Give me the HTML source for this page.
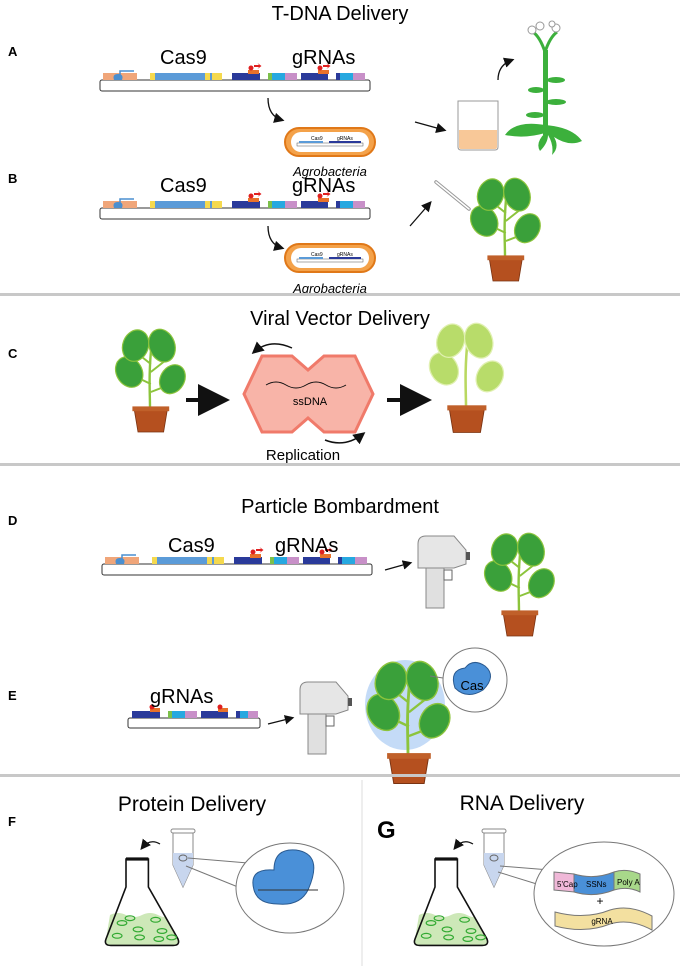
<!DOCTYPE html><html><head><style>body{margin:0;background:#fff}svg{display:block}text{font-family:"Liberation Sans",sans-serif}</style></head><body>
<svg width="680" height="966" viewBox="0 0 680 966" xmlns="http://www.w3.org/2000/svg">
<defs>
<g id="dna">
<rect x="0" y="7" width="270" height="11" rx="2" fill="#fff" stroke="#333" stroke-width="1"/>
<rect x="3" y="0" width="34" height="7" fill="#f0a67a"/>
<path d="M14 7 q-2-6 4-6 q6 0 4 6z" fill="#4a8fd0"/><path d="M20 2 v-4 h14" stroke="#4a8fd0" fill="none" stroke-width="1.5"/>
<rect x="50" y="0" width="62" height="7" fill="#5b9bd8"/><rect x="50" y="0" width="5" height="7" fill="#f5d94e"/><rect x="105" y="0" width="5" height="7" fill="#f5d94e"/><rect x="112" y="0" width="10" height="7" fill="#f5d94e"/>
<rect x="132" y="0" width="28" height="7" fill="#2a3a9a"/><rect x="148" y="-3" width="11" height="4" fill="#e8712a"/><circle cx="151" cy="-5" r="2.5" fill="#e02020"/><path d="M154 -8 h5 l-1.5 -2 l4 3 l-4 3 l1.5-2h-5z" fill="#e02020"/>
<rect x="168" y="0" width="4" height="7" fill="#7cc04a"/><rect x="172" y="0" width="13" height="7" fill="#26a8e0"/><rect x="185" y="0" width="12" height="7" fill="#c890c8"/>
<rect x="201" y="0" width="27" height="7" fill="#2a3a9a"/><rect x="218" y="-3" width="11" height="4" fill="#e8712a"/><circle cx="220" cy="-5" r="2.5" fill="#e02020"/><path d="M223 -8 h5 l-1.5 -2 l4 3 l-4 3 l1.5-2h-5z" fill="#e02020"/>
<rect x="236" y="0" width="4" height="7" fill="#2a3a9a"/><rect x="240" y="0" width="13" height="7" fill="#26a8e0"/><rect x="253" y="0" width="12" height="7" fill="#c890c8"/>
</g>
<g id="plant">
<path d="M40 100 C40 80 38 60 42 20" stroke="#8cc43c" stroke-width="3" fill="none"/>
<path d="M41 70 L20 60 M41 55 L60 40 M41 80 L62 72 M41 45 L22 30" stroke="#8cc43c" stroke-width="2.5"/>
<ellipse cx="14" cy="55" rx="16" ry="20" transform="rotate(-30 14 55)" fill="#3aa03a" stroke="#8cc43c" stroke-width="1.5"/>
<ellipse cx="22" cy="22" rx="16" ry="20" transform="rotate(20 22 22)" fill="#3aa03a" stroke="#8cc43c" stroke-width="1.5"/>
<ellipse cx="55" cy="22" rx="16" ry="21" transform="rotate(-20 55 22)" fill="#3aa03a" stroke="#8cc43c" stroke-width="1.5"/>
<ellipse cx="68" cy="64" rx="15" ry="19" transform="rotate(30 68 64)" fill="#3aa03a" stroke="#8cc43c" stroke-width="1.5"/>
<path d="M20 100 h42 l-5 30 h-32z" fill="#b5501f" stroke="#7a3312"/><rect x="18" y="98" width="46" height="6" fill="#c0602a"/>
</g>
<g id="plantL">
<path d="M40 100 C40 80 38 60 42 20" stroke="#b9d860" stroke-width="3" fill="none"/>
<ellipse cx="14" cy="55" rx="16" ry="20" transform="rotate(-30 14 55)" fill="#b8dc6a" stroke="#e0f0b0" stroke-width="1.5"/>
<ellipse cx="22" cy="22" rx="16" ry="20" transform="rotate(20 22 22)" fill="#b8dc6a" stroke="#e0f0b0" stroke-width="1.5"/>
<ellipse cx="55" cy="22" rx="16" ry="21" transform="rotate(-20 55 22)" fill="#b8dc6a" stroke="#e0f0b0" stroke-width="1.5"/>
<ellipse cx="68" cy="64" rx="15" ry="19" transform="rotate(30 68 64)" fill="#b8dc6a" stroke="#e0f0b0" stroke-width="1.5"/>
<path d="M20 100 h42 l-5 30 h-32z" fill="#b5501f" stroke="#7a3312"/><rect x="18" y="98" width="46" height="6" fill="#c0602a"/>
</g>
<g id="gun">
<path d="M0 8 q0-8 8-8 h28 l12 14 v14 l-12 4 h-36z" fill="#e6e6e6" stroke="#888"/>
<rect x="8" y="32" width="18" height="40" fill="#e0e0e0" stroke="#888"/>
<rect x="26" y="34" width="8" height="10" fill="#fff" stroke="#666"/>
<rect x="48" y="16" width="4" height="8" fill="#555"/>
</g>
<g id="agro">
<rect x="0" y="0" width="90" height="28" rx="14" fill="#f4a24a" stroke="#e07818" stroke-width="2"/>
<rect x="6" y="4" width="78" height="20" rx="10" fill="#fff"/>
<rect x="12" y="15" width="66" height="3" fill="#fff" stroke="#555" stroke-width=".5"/>
<rect x="14" y="13" width="24" height="2" fill="#5b9bd8"/><rect x="44" y="13" width="32" height="2" fill="#2a3a9a"/>
<text x="26" y="12" font-size="5">Cas9</text><text x="52" y="12" font-size="5">gRNAs</text>
</g>
<marker id="ah" markerWidth="8" markerHeight="8" refX="6" refY="4" orient="auto"><path d="M0 0 L8 4 L0 8z" fill="#111"/></marker>
<g id="flask">
<path d="M5 70 q10-5 20 0 t20 0 t20 0 t8 0 L90 100 q3 8-6 8 h-78 q-9 0-6-8z" fill="#cde8b8"/>
<path d="M25 0 h28 v35 l37 65 q3 8-6 8 h-78 q-9 0-6-8 l25-65 z" fill="none" stroke="#111" stroke-width="2"/>
<rect x="25" y="-2" width="28" height="4" fill="#111"/>
<g fill="none" stroke="#33aa33" stroke-width="1.5"><ellipse cx="20" cy="80" rx="6" ry="3"/><ellipse cx="40" cy="88" rx="6" ry="3"/><ellipse cx="62" cy="76" rx="6" ry="3"/><ellipse cx="70" cy="90" rx="6" ry="3"/><ellipse cx="14" cy="96" rx="6" ry="3"/><ellipse cx="42" cy="98" rx="6" ry="3"/><ellipse cx="66" cy="100" rx="6" ry="3"/><ellipse cx="82" cy="98" rx="6" ry="3"/><ellipse cx="30" cy="74" rx="6" ry="3"/></g>
</g>
<g id="tube">
<rect x="-2" y="0" width="24" height="4" rx="2" fill="#fff" stroke="#888"/>
<path d="M0 4 h20 v32 l-10 22 l-10 -22z" fill="#fff" stroke="#888"/>
<path d="M0 24 h20 v12 l-10 22 l-10 -22z" fill="#c8d6ee"/>
<ellipse cx="10" cy="29" rx="4" ry="3" fill="none" stroke="#666"/>
</g>
</defs>

<text x="340" y="20" font-size="20" text-anchor="middle">T-DNA Delivery</text>
<text x="8" y="56" font-size="13" font-weight="bold">A</text>
<use href="#dna" x="100" y="73"/>
<text x="160" y="64" font-size="20">Cas9</text><text x="292" y="64" font-size="20">gRNAs</text>
<path d="M268 98 q0 18 14 22" fill="none" stroke="#111" stroke-width="1.3" marker-end="url(#ah)"/>
<use href="#agro" x="285" y="128"/>
<text x="330" y="176" font-size="13" font-style="italic" text-anchor="middle">Agrobacteria</text>
<line x1="415" y1="122" x2="444" y2="130" stroke="#111" stroke-width="1.3" marker-end="url(#ah)"/>
<path d="M458 101 h40 v46 q0 3-3 3 h-34 q-3 0-3-3z" fill="#fff" stroke="#999"/>
<path d="M459 130 h38 v17 q0 2-2 2 h-34 q-2 0-2-2z" fill="#f8c898"/>
<path d="M498 80 q0-15 14-20" fill="none" stroke="#111" stroke-width="1.3" marker-end="url(#ah)"/>
<g fill="#3cb03c">
<rect x="543" y="50" width="5" height="85"/>
<path d="M545 125 q-30 -5 -40 10 q20 4 40 -2 q-10 10 -5 18 q8-8 8-16 q6 10 4 20 q8 -8 2-18 q15 10 28 4 q-10 -14 -37 -16z"/>
<ellipse cx="556" cy="80" rx="9" ry="3"/><ellipse cx="556" cy="102" rx="10" ry="3"/><ellipse cx="535" cy="115" rx="9" ry="3"/><ellipse cx="536" cy="90" rx="8" ry="3"/>
<path d="M545 52 q-5-15-12-20 M545 52 q5-15 12-20" stroke="#3cb03c" stroke-width="3" fill="none"/>
</g>
<g fill="#fff" stroke="#999"><circle cx="532" cy="30" r="4"/><circle cx="540" cy="26" r="4"/><circle cx="556" cy="28" r="4"/><circle cx="552" cy="24" r="3"/></g>

<text x="8" y="183" font-size="13" font-weight="bold">B</text>
<use href="#dna" x="100" y="201"/>
<text x="160" y="192" font-size="20">Cas9</text><text x="292" y="192" font-size="20">gRNAs</text>
<path d="M268 226 q0 18 14 22" fill="none" stroke="#111" stroke-width="1.3" marker-end="url(#ah)"/>
<use href="#agro" x="285" y="244"/>
<text x="330" y="293" font-size="13" font-style="italic" text-anchor="middle">Agrobacteria</text>
<line x1="410" y1="226" x2="430" y2="203" stroke="#111" stroke-width="1.3" marker-end="url(#ah)"/>
<line x1="436" y1="182" x2="469" y2="209" stroke="#999" stroke-width="3.5" stroke-linecap="round"/>
<line x1="436" y1="182" x2="469" y2="209" stroke="#fff" stroke-width="1.5" stroke-linecap="round"/>
<use href="#plant" transform="translate(473,177) scale(0.8)"/>
<rect x="0" y="293" width="680" height="3" fill="#c8c8c8"/>

<text x="340" y="325" font-size="20" text-anchor="middle">Viral Vector Delivery</text>
<text x="8" y="358" font-size="13" font-weight="bold">C</text>
<use href="#plant" transform="translate(118,328) scale(0.8)"/>
<line x1="186" y1="400" x2="222" y2="400" stroke="#111" stroke-width="4" marker-end="url(#ah)"/>
<path d="M244 394 L262 356 H292 L308 370 L324 356 H355 L373 394 L355 432 H324 L308 418 L292 432 H262 Z" fill="#f8b4a8" stroke="#f07a6a" stroke-width="3"/>
<path d="M266 385 q10-6 20 0 t20 0 t20 0 t20 0" fill="none" stroke="#111"/>
<text x="310" y="405" font-size="11" text-anchor="middle">ssDNA</text>
<path d="M292 348 q-22-10 -38 4" fill="none" stroke="#111" stroke-width="1.5" marker-end="url(#ah)"/>
<path d="M325 440 q20 8 38 -6" fill="none" stroke="#111" stroke-width="1.5" marker-end="url(#ah)"/>
<text x="303" y="460" font-size="15" text-anchor="middle">Replication</text>
<line x1="387" y1="400" x2="424" y2="400" stroke="#111" stroke-width="4" marker-end="url(#ah)"/>
<use href="#plantL" transform="translate(432,322) scale(0.85)"/>
<rect x="0" y="463" width="680" height="3" fill="#c8c8c8"/>

<text x="340" y="513" font-size="20" text-anchor="middle">Particle Bombardment</text>
<text x="8" y="525" font-size="13" font-weight="bold">D</text>
<use href="#dna" x="102" y="557"/>
<text x="168" y="552" font-size="20">Cas9</text><text x="275" y="552" font-size="20">gRNAs</text>
<line x1="385" y1="570" x2="410" y2="563" stroke="#111" stroke-width="1.2" marker-end="url(#ah)"/>
<use href="#gun" x="418" y="536"/>
<use href="#plant" transform="translate(487,532) scale(0.8)"/>
<text x="8" y="700" font-size="13" font-weight="bold">E</text>
<rect x="128" y="718" width="132" height="10" rx="2" fill="#fff" stroke="#333"/>
<rect x="132" y="711" width="28" height="7" fill="#2a3a9a"/><rect x="150" y="708" width="10" height="4" fill="#e8712a"/><circle cx="152" cy="707" r="2.5" fill="#e02020"/>
<rect x="168" y="711" width="4" height="7" fill="#7cc04a"/><rect x="172" y="711" width="13" height="7" fill="#26a8e0"/><rect x="185" y="711" width="12" height="7" fill="#c890c8"/>
<rect x="201" y="711" width="27" height="7" fill="#2a3a9a"/><rect x="218" y="708" width="10" height="4" fill="#e8712a"/><circle cx="220" cy="707" r="2.5" fill="#e02020"/>
<rect x="236" y="711" width="4" height="7" fill="#2a3a9a"/><rect x="240" y="711" width="8" height="7" fill="#26a8e0"/><rect x="248" y="711" width="10" height="7" fill="#c890c8"/>
<text x="150" y="703" font-size="20">gRNAs</text>
<line x1="268" y1="724" x2="292" y2="718" stroke="#111" stroke-width="1.2" marker-end="url(#ah)"/>
<use href="#gun" x="300" y="682"/>
<ellipse cx="405" cy="705" rx="40" ry="45" fill="#8ab8f0" opacity=".5"/>
<use href="#plant" transform="translate(370,660) scale(0.95)"/>
<circle cx="475" cy="680" r="32" fill="#fff" stroke="#777"/>
<line x1="430" y1="676" x2="443" y2="678" stroke="#777"/>
<path d="M455 688 q-6-18 10-20 q8-10 20-2 q12 10 -2 24 q-16 10 -28 -2z" fill="#4a90d8" stroke="#2a5a90"/>
<text x="472" y="690" font-size="13" text-anchor="middle">Cas</text>
<rect x="0" y="774" width="680" height="3" fill="#c8c8c8"/>
<line x1="362" y1="780" x2="362" y2="966" stroke="#ddd"/>

<text x="192" y="811" font-size="21" text-anchor="middle">Protein Delivery</text>
<text x="8" y="826" font-size="13" font-weight="bold">F</text>
<use href="#flask" transform="translate(106,859) scale(0.8)"/>
<path d="M160 844 q-10-6-18 4" fill="none" stroke="#111" stroke-width="1.3" marker-end="url(#ah)"/>
<use href="#tube" x="173" y="829"/>
<line x1="188" y1="858" x2="248" y2="863" stroke="#777"/><line x1="186" y1="866" x2="238" y2="887" stroke="#777"/>
<ellipse cx="290" cy="888" rx="54" ry="45" fill="#fff" stroke="#777"/>
<path d="M254 890 q-6-22 20-20 q0-22 22-20 q28 4 12 40 q-8 16 -30 14 q-20 0 -24 -14z" fill="#4a90d8" stroke="#2a5a90"/>
<line x1="258" y1="890" x2="318" y2="890" stroke="#333"/>

<text x="522" y="810" font-size="21" text-anchor="middle">RNA Delivery</text>
<text x="377" y="838" font-size="24" font-weight="bold">G</text>
<use href="#flask" transform="translate(415,859) scale(0.8)"/>
<path d="M473 844 q-10-6-18 4" fill="none" stroke="#111" stroke-width="1.3" marker-end="url(#ah)"/>
<use href="#tube" x="484" y="829"/>
<line x1="500" y1="866" x2="550" y2="870" stroke="#777"/><line x1="498" y1="872" x2="540" y2="885" stroke="#777"/>
<ellipse cx="604" cy="894" rx="70" ry="52" fill="#fff" stroke="#777"/>
<path d="M554 872 l20 2 v18 l-20 -2z" fill="#f0b8d8" stroke="#777"/>
<path d="M574 874 q20 6 40 -2 v18 q-20 8 -40 2z" fill="#4a90d8" stroke="#777"/>
<path d="M614 872 q12 -4 26 2 v18 q-12 -6 -26 -2z" fill="#a8d88a" stroke="#777"/>
<text x="557" y="887" font-size="8">5'Cap</text><text x="586" y="887" font-size="8">SSNs</text><text x="617" y="885" font-size="8">Poly A</text>
<text x="600" y="905" font-size="12" text-anchor="middle">+</text>
<path d="M555 912 q30 8 55 -2 q20 -6 42 6 v14 q-22 -12 -42 -6 q-25 10 -55 2z" fill="#f3e0a0" stroke="#777"/>
<text x="602" y="924" font-size="8" text-anchor="middle">gRNA</text>
</svg>
</body></html>
